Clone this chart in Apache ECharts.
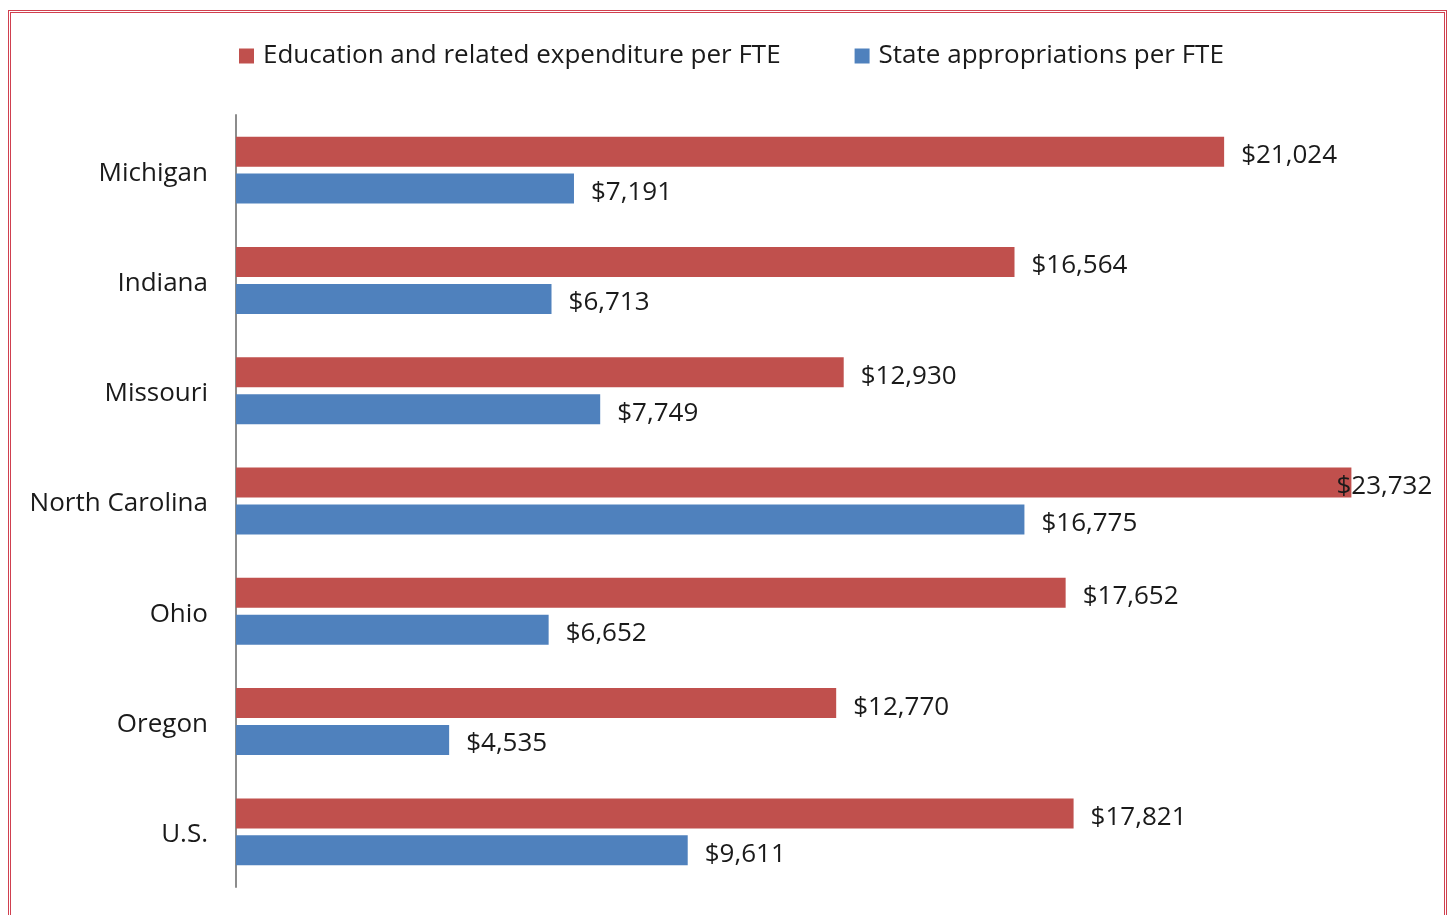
<!DOCTYPE html>
<html>
<head>
<meta charset="utf-8">
<script src="https://cdn.jsdelivr.net/npm/echarts@6/dist/echarts.min.js"></script>
<style>
  html, body { margin: 0; padding: 0; background: #fff; }
  #frame {
    position: absolute; left: 8px; top: 10px; width: 1433px; height: 920px;
    border: 3px double #d0404f;
  }
  #chart { position: absolute; left: 0; top: 0; width: 1448px; height: 915px; }
</style>
</head>
<body>
<div id="frame"></div>
<div id="chart"></div>
<script>
// States compared, listed top to bottom
const states = ['Michigan', 'Indiana', 'Missouri', 'North Carolina', 'Ohio', 'Oregon', 'U.S.'];
// Education and related expenditure per FTE (dollars)
const educationExpenditure = [21024, 16564, 12930, 23732, 17652, 12770, 17821];
// State appropriations per FTE (dollars)
const stateAppropriations = [7191, 6713, 7749, 16775, 6652, 4535, 9611];

const seriesNames = ['Education and related expenditure per FTE', 'State appropriations per FTE'];
const FONT = '"Open Sans", Lato, sans-serif';
const FS = 26;

const fmt = v => '$' + v.toLocaleString('en-US');

const chart = echarts.init(document.getElementById('chart'));

function labelCfg() {
  return {
    show: true, position: 'right', distance: 17, offset: [0, 4],
    fontFamily: FONT, fontSize: FS, color: '#1a1a1a',
    formatter: p => fmt(p.value)
  };
}

// The widest bar's label sits partly over the bar end
const eduData = educationExpenditure.map(v =>
  v === Math.max(...educationExpenditure) ? { value: v, label: { offset: [-32, 4] } } : v);

chart.setOption({
  animation: false,
  legend: {
    top: 38, left: 234,
    itemWidth: 15, itemHeight: 15, itemGap: 74,
    icon: 'rect',
    textStyle: { fontFamily: FONT, fontSize: FS, color: '#1a1a1a', padding: [0, 0, 0, 4] },
    data: seriesNames
  },
  grid: { left: 236, right: 37, top: 115, bottom: 28, containLabel: false },
  xAxis: {
    type: 'value', min: 0, max: 25000,
    show: false
  },
  yAxis: {
    type: 'category', inverse: true, data: states,
    axisLine: { show: true, lineStyle: { color: '#8c8c8c', width: 2 } },
    axisTick: { show: false },
    axisLabel: {
      margin: 28,
      formatter: v => '{s|' + v + '}',
      rich: { s: { fontFamily: FONT, fontSize: FS, color: '#1a1a1a', padding: [6, 0, 0, 0] } }
    }
  },
  series: [
    {
      name: seriesNames[0], type: 'bar', data: eduData,
      barWidth: 30, barGap: '23%',
      itemStyle: { color: '#c0504d' },
      label: labelCfg()
    },
    {
      name: seriesNames[1], type: 'bar', data: stateAppropriations,
      barWidth: 30,
      itemStyle: { color: '#4f81bd' },
      label: labelCfg()
    }
  ]
});
</script>
</body>
</html>
